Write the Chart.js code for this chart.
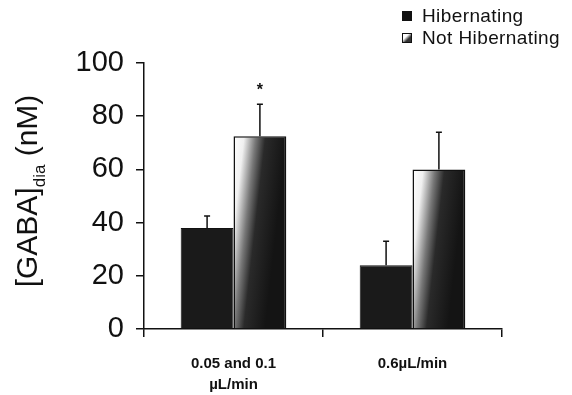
<!DOCTYPE html>
<html>
<head>
<meta charset="utf-8">
<script src="https://cdn.jsdelivr.net/npm/chart.js@4/dist/chart.umd.min.js"></script>
<style>
  html, body { margin: 0; padding: 0; background: #fff; }
  #wrap { position: relative; width: 572px; height: 395px; }
  #legend { position: absolute; left: 402px; top: 5px; font-family: "Liberation Sans", Arial, sans-serif; font-size: 19px; letter-spacing: 0.4px; color: #111; }
  #legend div { display: flex; align-items: center; height: 22px; }
  #legend span.box { width: 10px; height: 10px; margin-right: 10px; border: 1px solid #111; box-sizing: border-box; }
</style>
</head>
<body>
<div id="wrap">
  <canvas id="chart" width="572" height="395"></canvas>
  <div id="legend">
    <div><span class="box" style="background:#111"></span>Hibernating</div>
    <div><span class="box" style="background:linear-gradient(135deg,#fff 35%,#333 65%)"></span>Not Hibernating</div>
  </div>
</div>
<script>
// data
const categories = [["0.05 and 0.1", "µL/min"], "0.6µL/min"];
const hibernating = [38, 24];
const hibernatingErr = [4.5, 9];
const notHibernating = [72.5, 60];
const notHibernatingErr = [12, 14];
const significance = ["*", ""];
const yTicks = [0, 20, 40, 60, 80, 100];

const CAT_PCT = 0.59;
const FONT = "'Liberation Sans', Arial, sans-serif";

// gradient fill for the "Not Hibernating" bars, built per bar from the x scale
function notHibFill(ctx) {
  const chart = ctx.chart;
  if (!chart.chartArea) return "#555";
  const x = chart.scales.x;
  const barW = (x.width / categories.length) * CAT_PCT / 2;
  const left = x.getPixelForValue(ctx.dataIndex);
  const top = chart.scales.y.getPixelForValue(notHibernating[ctx.dataIndex]);
  const g = chart.ctx.createLinearGradient(left, top, left + barW, top + 6);
  g.addColorStop(0, "#ffffff");
  g.addColorStop(0.2, "#f0f0f0");
  g.addColorStop(0.42, "#777777");
  g.addColorStop(0.6, "#2a2a2a");
  g.addColorStop(1, "#141414");
  return g;
}

// error bars (upward only) and the significance star
const errorBars = {
  id: "errorBars",
  afterDatasetsDraw(chart) {
    const c = chart.ctx;
    const y = chart.scales.y;
    const sets = [[hibernating, hibernatingErr], [notHibernating, notHibernatingErr]];
    c.save();
    c.strokeStyle = "#111";
    c.lineWidth = 1.5;
    sets.forEach(([vals, errs], di) => {
      chart.getDatasetMeta(di).data.forEach((bar, i) => {
        const top = y.getPixelForValue(vals[i]);
        const end = y.getPixelForValue(vals[i] + errs[i]);
        c.beginPath();
        c.moveTo(bar.x, top);
        c.lineTo(bar.x, end);
        c.moveTo(bar.x - 3, end);
        c.lineTo(bar.x + 3, end);
        c.stroke();
        if (di === 1 && significance[i]) {
          c.fillStyle = "#111";
          c.font = "bold 16px " + FONT;
          c.textAlign = "center";
          c.textBaseline = "middle";
          c.fillText(significance[i], bar.x, end - 14);
        }
      });
    });
    c.restore();
  }
};

// y axis title with subscript
const yTitle = {
  id: "yTitle",
  afterDraw(chart) {
    const c = chart.ctx;
    const big = "30px " + FONT;
    const small = "17px " + FONT;
    const parts = [["[GABA]", big, 0], ["dia", small, 8], [" (nM)", big, 0]];
    c.save();
    let total = 0;
    parts.forEach(p => { c.font = p[1]; total += c.measureText(p[0]).width; });
    c.translate(37, 191);
    c.rotate(-Math.PI / 2);
    c.fillStyle = "#111";
    c.textBaseline = "alphabetic";
    let x = -total / 2;
    parts.forEach(p => {
      c.font = p[1];
      c.fillText(p[0], x, p[2]);
      x += c.measureText(p[0]).width;
    });
    c.restore();
  }
};

new Chart(document.getElementById("chart"), {
  type: "bar",
  data: {
    labels: categories,
    datasets: [
      {
        label: "Hibernating",
        data: hibernating,
        backgroundColor: "#1a1a1a",
        borderColor: "#111",
        borderWidth: 1,
        categoryPercentage: CAT_PCT,
        barPercentage: 1
      },
      {
        label: "Not Hibernating",
        data: notHibernating,
        backgroundColor: notHibFill,
        borderColor: "#111",
        borderWidth: 1.5,
        categoryPercentage: CAT_PCT,
        barPercentage: 1
      }
    ]
  },
  options: {
    responsive: false,
    animation: false,
    layout: { padding: { top: 63, right: 70, left: 0, bottom: 0 } },
    plugins: {
      legend: { display: false },
      tooltip: { enabled: false }
    },
    scales: {
      x: {
        afterFit: (s) => { s.height = 66; },
        border: { color: "#111", width: 1.5 },
        grid: { drawOnChartArea: false, tickLength: 8, color: "#111", lineWidth: 1.5 },
        ticks: {
          color: "#111",
          padding: 17,
          font: { family: FONT, size: 15, weight: "bold", lineHeight: 1.35 }
        }
      },
      y: {
        min: 0,
        max: 100,
        afterFit: (s) => { s.width = 144; },
        afterBuildTicks: (s) => { s.ticks = yTicks.map(v => ({ value: v })); },
        border: { color: "#111", width: 1.5 },
        grid: { drawOnChartArea: false, tickLength: 8, color: "#111", lineWidth: 1.5 },
        ticks: {
          color: "#111",
          padding: 12,
          font: { family: FONT, size: 29 }
        }
      }
    }
  },
  plugins: [errorBars, yTitle]
});
</script>
</body>
</html>
